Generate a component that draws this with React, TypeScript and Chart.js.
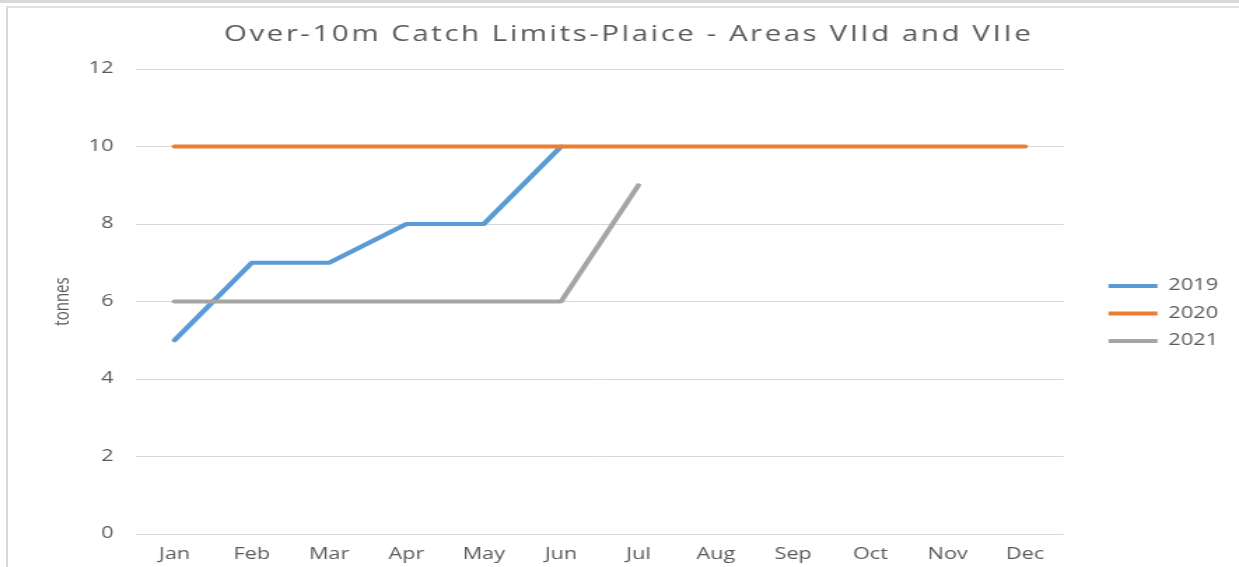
import React, { useEffect, useRef } from "react";
import { Chart, registerables } from "chart.js";

Chart.register(...registerables);

const months = ["Jan", "Feb", "Mar", "Apr", "May", "Jun", "Jul", "Aug", "Sep", "Oct", "Nov", "Dec"];
const seriesNames = ["2019", "2020", "2021"];
const catch2019 = [5, 7, 7, 8, 8, 10, null, null, null, null, null, null];
const catch2020 = [10, 10, 10, 10, 10, 10, 10, 10, 10, 10, 10, 10];
const catch2021 = [6, 6, 6, 6, 6, 6, 9, null, null, null, null, null];
const yMin = 0;
const yMax = 12;
const yStep = 2;

const TITLE = "Over-10m Catch Limits-Plaice - Areas VIId and VIIe";
const TEXT = "#595959";
const GRID = "#d9d9d9";
const FONT = "'Open Sans', 'Noto Sans', sans-serif";

const titleSpacing = {
  id: "titleSpacing",
  beforeDraw(chart: any) {
    const tb = chart.titleBlock;
    if (tb && !tb._patched) {
      const orig = tb.draw.bind(tb);
      tb.draw = (area: any) => {
        const ctx = chart.ctx;
        ctx.save();
        try {
          (ctx as any).letterSpacing = "1.85px";
        } catch (e) {}
        ctx.translate(9, 0);
        orig(area);
        ctx.restore();
      };
      tb._patched = true;
    }
  },
};

export default function App() {
  const ref = useRef<HTMLCanvasElement | null>(null);
  useEffect(() => {
    if (!ref.current) return;
    const chart = new Chart(ref.current, {
      type: "line",
      data: {
        labels: months,
        datasets: [
          {
            label: seriesNames[0],
            data: catch2019,
            borderColor: "#5B9BD5",
            backgroundColor: "#5B9BD5",
            order: 2,
          },
          {
            label: seriesNames[1],
            data: catch2020,
            borderColor: "#ED7D31",
            backgroundColor: "#ED7D31",
            order: 1,
          },
          {
            label: seriesNames[2],
            data: catch2021,
            borderColor: "#A5A5A5",
            backgroundColor: "#A5A5A5",
            order: 0,
          },
        ].map((d) => ({
          ...d,
          borderWidth: 4,
          pointRadius: 0,
          pointHoverRadius: 0,
          tension: 0,
          borderCapStyle: "round" as const,
          borderJoinStyle: "round" as const,
          spanGaps: false,
          pointStyle: "line" as const,
        })),
      },
      options: {
        animation: false,
        responsive: true,
        maintainAspectRatio: false,
        layout: { padding: { left: 0, right: 5, top: 0, bottom: 0 } },
        plugins: {
          tooltip: { enabled: false },
          title: {
            display: true,
            text: TITLE,
            color: TEXT,
            font: { family: FONT, size: 21, weight: "normal" },
            padding: { top: 22.4, bottom: 21.4 },
          },
          legend: {
            display: true,
            position: "right",
            fullSize: false,
            title: { display: true, text: " ", font: { size: 10 }, padding: { top: 6, bottom: 6 } },
            labels: {
              usePointStyle: true,
              pointStyle: "line",
              pointStyleWidth: 35,
              padding: 12,
              color: TEXT,
              font: { family: FONT, size: 15.5 },
              sort: (a: any, b: any) => a.datasetIndex - b.datasetIndex,
            },
          },
        },
        scales: {
          x: {
            type: "category",
            offset: true,
            grid: { display: false, drawTicks: false },
            border: { display: false },
            ticks: { color: TEXT, font: { family: FONT, size: 15.5 }, padding: 11, maxRotation: 0, autoSkip: false },
            afterFit: (s: any) => {
              s.height = 33;
            },
          },
          y: {
            type: "linear",
            position: "left",
            min: yMin,
            max: yMax,
            grid: { color: GRID, lineWidth: 1, drawTicks: false },
            border: { display: false },
            ticks: { stepSize: yStep, color: TEXT, font: { family: FONT, size: 15.5 }, padding: 16 },
            title: {
              display: true,
              text: "tonnes",
              color: TEXT,
              font: { family: FONT, size: 15 },
              padding: { top: 36, bottom: 0 },
            },
            afterFit: (s: any) => {
              s.width = 97;
            },
          },
          gap: {
            type: "linear",
            position: "right",
            display: true,
            grid: { display: false, drawTicks: false },
            border: { display: false },
            ticks: { display: false },
            afterFit: (s: any) => {
              s.width = 20;
            },
          },
        },
      },
      plugins: [titleSpacing],
    } as any);
    return () => chart.destroy();
  }, []);

  return (
    <div style={{ position: "fixed", left: 0, top: 0, width: 1239, height: 567, overflow: "hidden", background: "#fff" }}>
      <div
        style={{
          position: "absolute",
          left: 0,
          top: 0,
          width: 885,
          height: 567,
          transform: "scaleX(1.4)",
          transformOrigin: "0 0",
        }}
      >
        <canvas ref={ref} />
      </div>
      <div style={{ position: "absolute", left: 0, top: 0, width: 1239, height: 3, background: "#d9d9d9" }} />
      <div
        style={{
          position: "absolute",
          left: 6,
          top: 6,
          width: 1240,
          height: 570,
          borderLeft: "2px solid #d9d9d9",
          borderTop: "2px solid #e0e0e0",
          pointerEvents: "none",
        }}
      />
    </div>
  );
}
